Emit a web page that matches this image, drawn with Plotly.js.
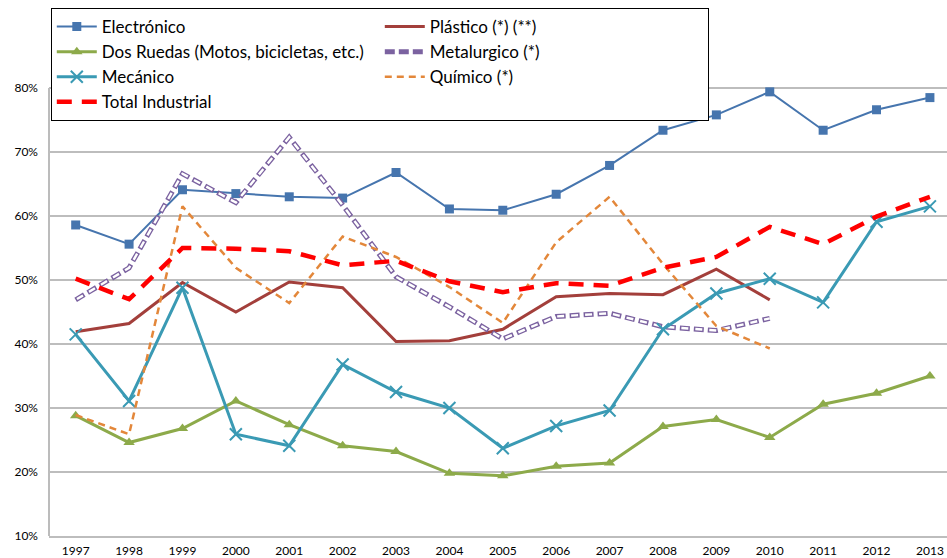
<!DOCTYPE html>
<html>
<head>
<meta charset="utf-8">
<script src="https://cdn.plot.ly/plotly-3.0.1.min.js"></script>
<style>html,body{margin:0;padding:0;background:#fff;}#chart{width:947px;height:558px;}</style>
</head>
<body>
<div id="chart"></div>
<script>
const years = [1997,1998,1999,2000,2001,2002,2003,2004,2005,2006,2007,2008,2009,2010,2011,2012,2013];
const electronico = [58.6,55.6,64.1,63.5,63.0,62.8,66.8,61.1,60.9,63.4,67.9,73.4,75.8,79.4,73.4,76.6,78.5];
const plastico    = [41.9,43.2,49.6,45.0,49.7,48.8,40.4,40.5,42.3,47.4,47.9,47.7,51.7,46.9];
const dosRuedas   = [28.8,24.6,26.8,31.1,27.4,24.1,23.2,19.8,19.4,20.9,21.4,27.1,28.2,25.4,30.6,32.3,35.0];
const metalurgico = [46.9,51.9,66.6,62.1,72.3,61.7,50.5,45.8,40.8,44.3,44.8,42.7,42.1,44.0];
const mecanico    = [41.5,31.1,48.8,25.9,24.1,36.8,32.5,30.0,23.7,27.2,29.6,42.3,47.9,50.2,46.5,59.1,61.5];
const quimico     = [28.9,25.9,61.5,51.9,46.4,56.8,53.6,48.9,43.3,55.9,63.0,52.5,42.8,39.3];
const total       = [50.2,47.0,55.0,54.9,54.5,52.3,53.0,49.8,48.1,49.5,49.1,51.9,53.6,58.3,55.6,59.9,63.0];
const yTicks = [10,20,30,40,50,60,70,80];
const yTickText = yTicks.map(v => v + '%');
const names = ['Electrónico','Plástico (*) (**)','Dos Ruedas (Motos, bicicletas, etc.)','Metalurgico (*)','Mecánico','Químico (*)','Total Industrial'];

const yrs = n => years.slice(0, n);

const traces = [
  {x: years, y: electronico, name: names[0], mode: 'lines+markers',
   line: {color: '#4675AE', width: 2}, marker: {symbol: 'square', size: 9, color: '#4675AE'}},
  {x: yrs(plastico.length), y: plastico, name: names[1], mode: 'lines',
   line: {color: '#A33F3B', width: 3}},
  {x: years, y: dosRuedas, name: names[2], mode: 'lines+markers',
   line: {color: '#8DAA4A', width: 3}, marker: {symbol: 'triangle-up', size: 10, color: '#8DAA4A'}},
  {x: yrs(metalurgico.length), y: metalurgico, name: names[3], mode: 'lines',
   line: {color: '#7B62A0', width: 5, dash: '10px,4px'}},
  {x: yrs(metalurgico.length), y: metalurgico, name: names[3] + ' inner', mode: 'lines', showlegend: false, hoverinfo: 'skip',
   line: {color: '#FFFFFF', width: 2.4, dash: '0px,1.5px,7px,5.5px'}},
  {x: years, y: mecanico, name: names[4], mode: 'lines+markers',
   line: {color: '#3A9AB4', width: 3}, marker: {symbol: 'x-thin-open', size: 12, line: {color: '#3A9AB4', width: 2}}},
  {x: yrs(quimico.length), y: quimico, name: names[5], mode: 'lines',
   line: {color: '#E3873A', width: 2.5, dash: '7px,5px'}},
  {x: years, y: total, name: names[6], mode: 'lines',
   line: {color: '#FF0000', width: 4.5, dash: '15px,10px'}}
];
traces.forEach(t => t.cliponaxis = false);

const layout = {
  width: 947, height: 558,
  margin: {l: 49, r: 0, t: 24, b: 22},
  paper_bgcolor: '#FFFFFF', plot_bgcolor: '#FFFFFF',
  font: {family: 'Lato, "Open Sans", sans-serif', color: '#000000'},
  showlegend: true,
  legend: {
    orientation: 'h', x: 0.002, xanchor: 'left', y: 1.03125, yanchor: 'top',
    entrywidth: 273, entrywidthmode: 'pixels', itemwidth: 40,
    bgcolor: '#FFFFFF', bordercolor: '#000000', borderwidth: 1,
    font: {size: 17, color: '#000000', family: 'Lato, "Open Sans", sans-serif'},
    traceorder: 'normal'
  },
  shapes: [
    {type: 'line', xref: 'paper', yref: 'y', x0: 0, x1: 0, y0: 10, y1: 80,
     line: {color: '#A6A6A6', width: 1.5}, layer: 'below'}
  ],
  xaxis: {
    range: [1996.5, 2013.32], tickmode: 'array', tickvals: years, ticktext: years.map(String),
    showgrid: false, zeroline: false, showline: true, linecolor: '#BDBDBD', linewidth: 1.5,
    ticks: '', tickfont: {size: 12, color: '#000000'}, ticklabelstandoff: 3, fixedrange: true
  },
  yaxis: {
    range: [10, 90], tickmode: 'array', tickvals: yTicks, ticktext: yTickText,
    showgrid: true, gridcolor: '#BDBDBD', gridwidth: 1.5, zeroline: false,
    showline: false,
    ticks: '', tickfont: {size: 12, color: '#000000'}, ticklabelstandoff: 10, fixedrange: true
  }
};

Plotly.newPlot('chart', traces, layout, {displayModeBar: false, staticPlot: true});
</script>
</body>
</html>
